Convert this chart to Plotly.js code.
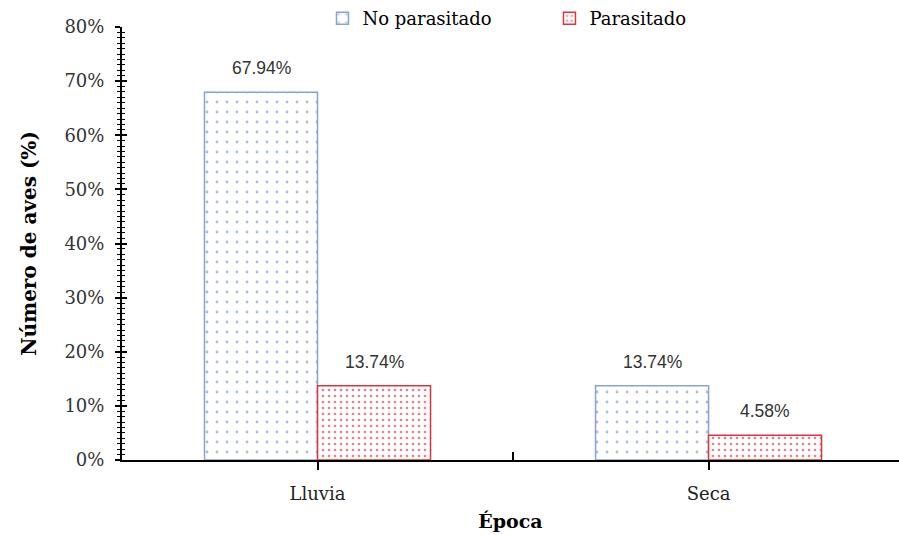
<!DOCTYPE html>
<html>
<head>
<meta charset="utf-8">
<script src="https://cdn.plot.ly/plotly-3.0.1.min.js"></script>
<style>html,body{margin:0;padding:0;background:#fff;}</style>
</head>
<body>
<div id="chart" style="width:899px;height:535px;"></div>
<script>
const categories = ["Lluvia", "Seca"];
const seriesNames = ["No parasitado", "Parasitado"];
const noParasitado = [0.6794, 0.1374];
const parasitado = [0.1374, 0.0458];
const yTickVals = [0, 0.1, 0.2, 0.3, 0.4, 0.5, 0.6, 0.7, 0.8];
const yTickText = ["0%", "10%", "20%", "30%", "40%", "50%", "60%", "70%", "80%"];

const serif = "DejaVu Serif, Liberation Serif, serif";
const sans = "Liberation Sans, Arial, sans-serif";

const traces = [
  {
    type: "bar", name: seriesNames[0], x: categories, y: noParasitado,
    marker: {
      color: "#ffffff",
      line: {color: "#86a3d6", width: 1.5},
      pattern: {shape: ".", fgcolor: "#a9bce0", bgcolor: "#ffffff", size: 10, solidity: 0.06}
    },
    hoverinfo: "skip"
  },
  {
    type: "bar", name: seriesNames[1], x: categories, y: parasitado,
    marker: {
      color: "#ffffff",
      line: {color: "#e0323c", width: 1.5},
      pattern: {shape: ".", fgcolor: "#e8808a", bgcolor: "#ffffff", size: 6, solidity: 0.16}
    },
    hoverinfo: "skip"
  },
  {
    type: "scatter", mode: "none", x: categories, y: noParasitado,
    xaxis: "x2", yaxis: "y2", showlegend: false, hoverinfo: "skip"
  }
];

const shiftPx = 56.5;
const annotations = [];
[noParasitado, parasitado].forEach((vals, i) => {
  vals.forEach((v, j) => {
    annotations.push({
      x: categories[j], y: v, xref: "x", yref: "y",
      text: (v * 100).toFixed(2) + "%",
      showarrow: false, xanchor: "center", yanchor: "bottom",
      xshift: i === 0 ? -shiftPx : shiftPx, yshift: 12,
      font: {family: sans, size: 17.5, color: "#333333"}
    });
  });
});

const xr = [-0.5, 1.487];
const yr = [0, 0.8];

const layout = {
  width: 899, height: 535,
  margin: {l: 122, r: 0, t: 27, b: 75},
  paper_bgcolor: "#ffffff", plot_bgcolor: "#ffffff",
  barmode: "group", bargap: 0.422, bargroupgap: 0,
  showlegend: true,
  legend: {
    orientation: "h", x: 0.258, y: 1.062, xanchor: "left", yanchor: "top",
    font: {family: serif, size: 18, color: "#000000"},
    entrywidth: 182, entrywidthmode: "pixels",
    bgcolor: "rgba(0,0,0,0)"
  },
  xaxis: {
    type: "category", range: xr, fixedrange: true,
    showline: true, linecolor: "#000000", linewidth: 2,
    ticks: "outside", ticklen: 8, tickwidth: 2, tickcolor: "#000000",
    showgrid: false, zeroline: false,
    tickfont: {family: serif, size: 18, color: "#222222"},
    ticklabelstandoff: 8,
    title: {text: "<b>Época</b>", font: {family: serif, size: 19, color: "#000000"}, standoff: 12}
  },
  yaxis: {
    range: yr, fixedrange: true,
    tickvals: yTickVals, ticktext: yTickText,
    showline: true, linecolor: "#000000", linewidth: 2,
    ticks: "outside", ticklen: 5, tickwidth: 2, tickcolor: "#000000",
    minor: {dtick: 0.01, tick0: 0, ticks: "outside", ticklen: 3, tickwidth: 1, tickcolor: "#000000", showgrid: false},
    showgrid: false, zeroline: false,
    tickfont: {family: serif, size: 18, color: "#333333"},
    ticklabelstandoff: 7,
    title: {text: "<b>Número de aves (%)</b>", font: {family: serif, size: 20, color: "#000000"}, standoff: 22}
  },
  xaxis2: {
    type: "category", overlaying: "x", anchor: "y", range: xr, fixedrange: true,
    categoryorder: "array", categoryarray: categories,
    tickson: "boundaries", ticks: "inside", ticklen: 8, tickwidth: 2, tickcolor: "#000000",
    showticklabels: false, showline: false, showgrid: false, zeroline: false
  },
  yaxis2: {
    overlaying: "y", anchor: "x", side: "left", range: yr, fixedrange: true,
    tickvals: yTickVals,
    ticks: "inside", ticklen: 5, tickwidth: 2, tickcolor: "#000000",
    minor: {dtick: 0.01, tick0: 0, ticks: "inside", ticklen: 3, tickwidth: 1, tickcolor: "#000000", showgrid: false},
    showticklabels: false, showline: false, showgrid: false, zeroline: false
  },
  annotations: annotations
};

Plotly.newPlot("chart", traces, layout, {displayModeBar: false, staticPlot: true});
</script>
</body>
</html>
